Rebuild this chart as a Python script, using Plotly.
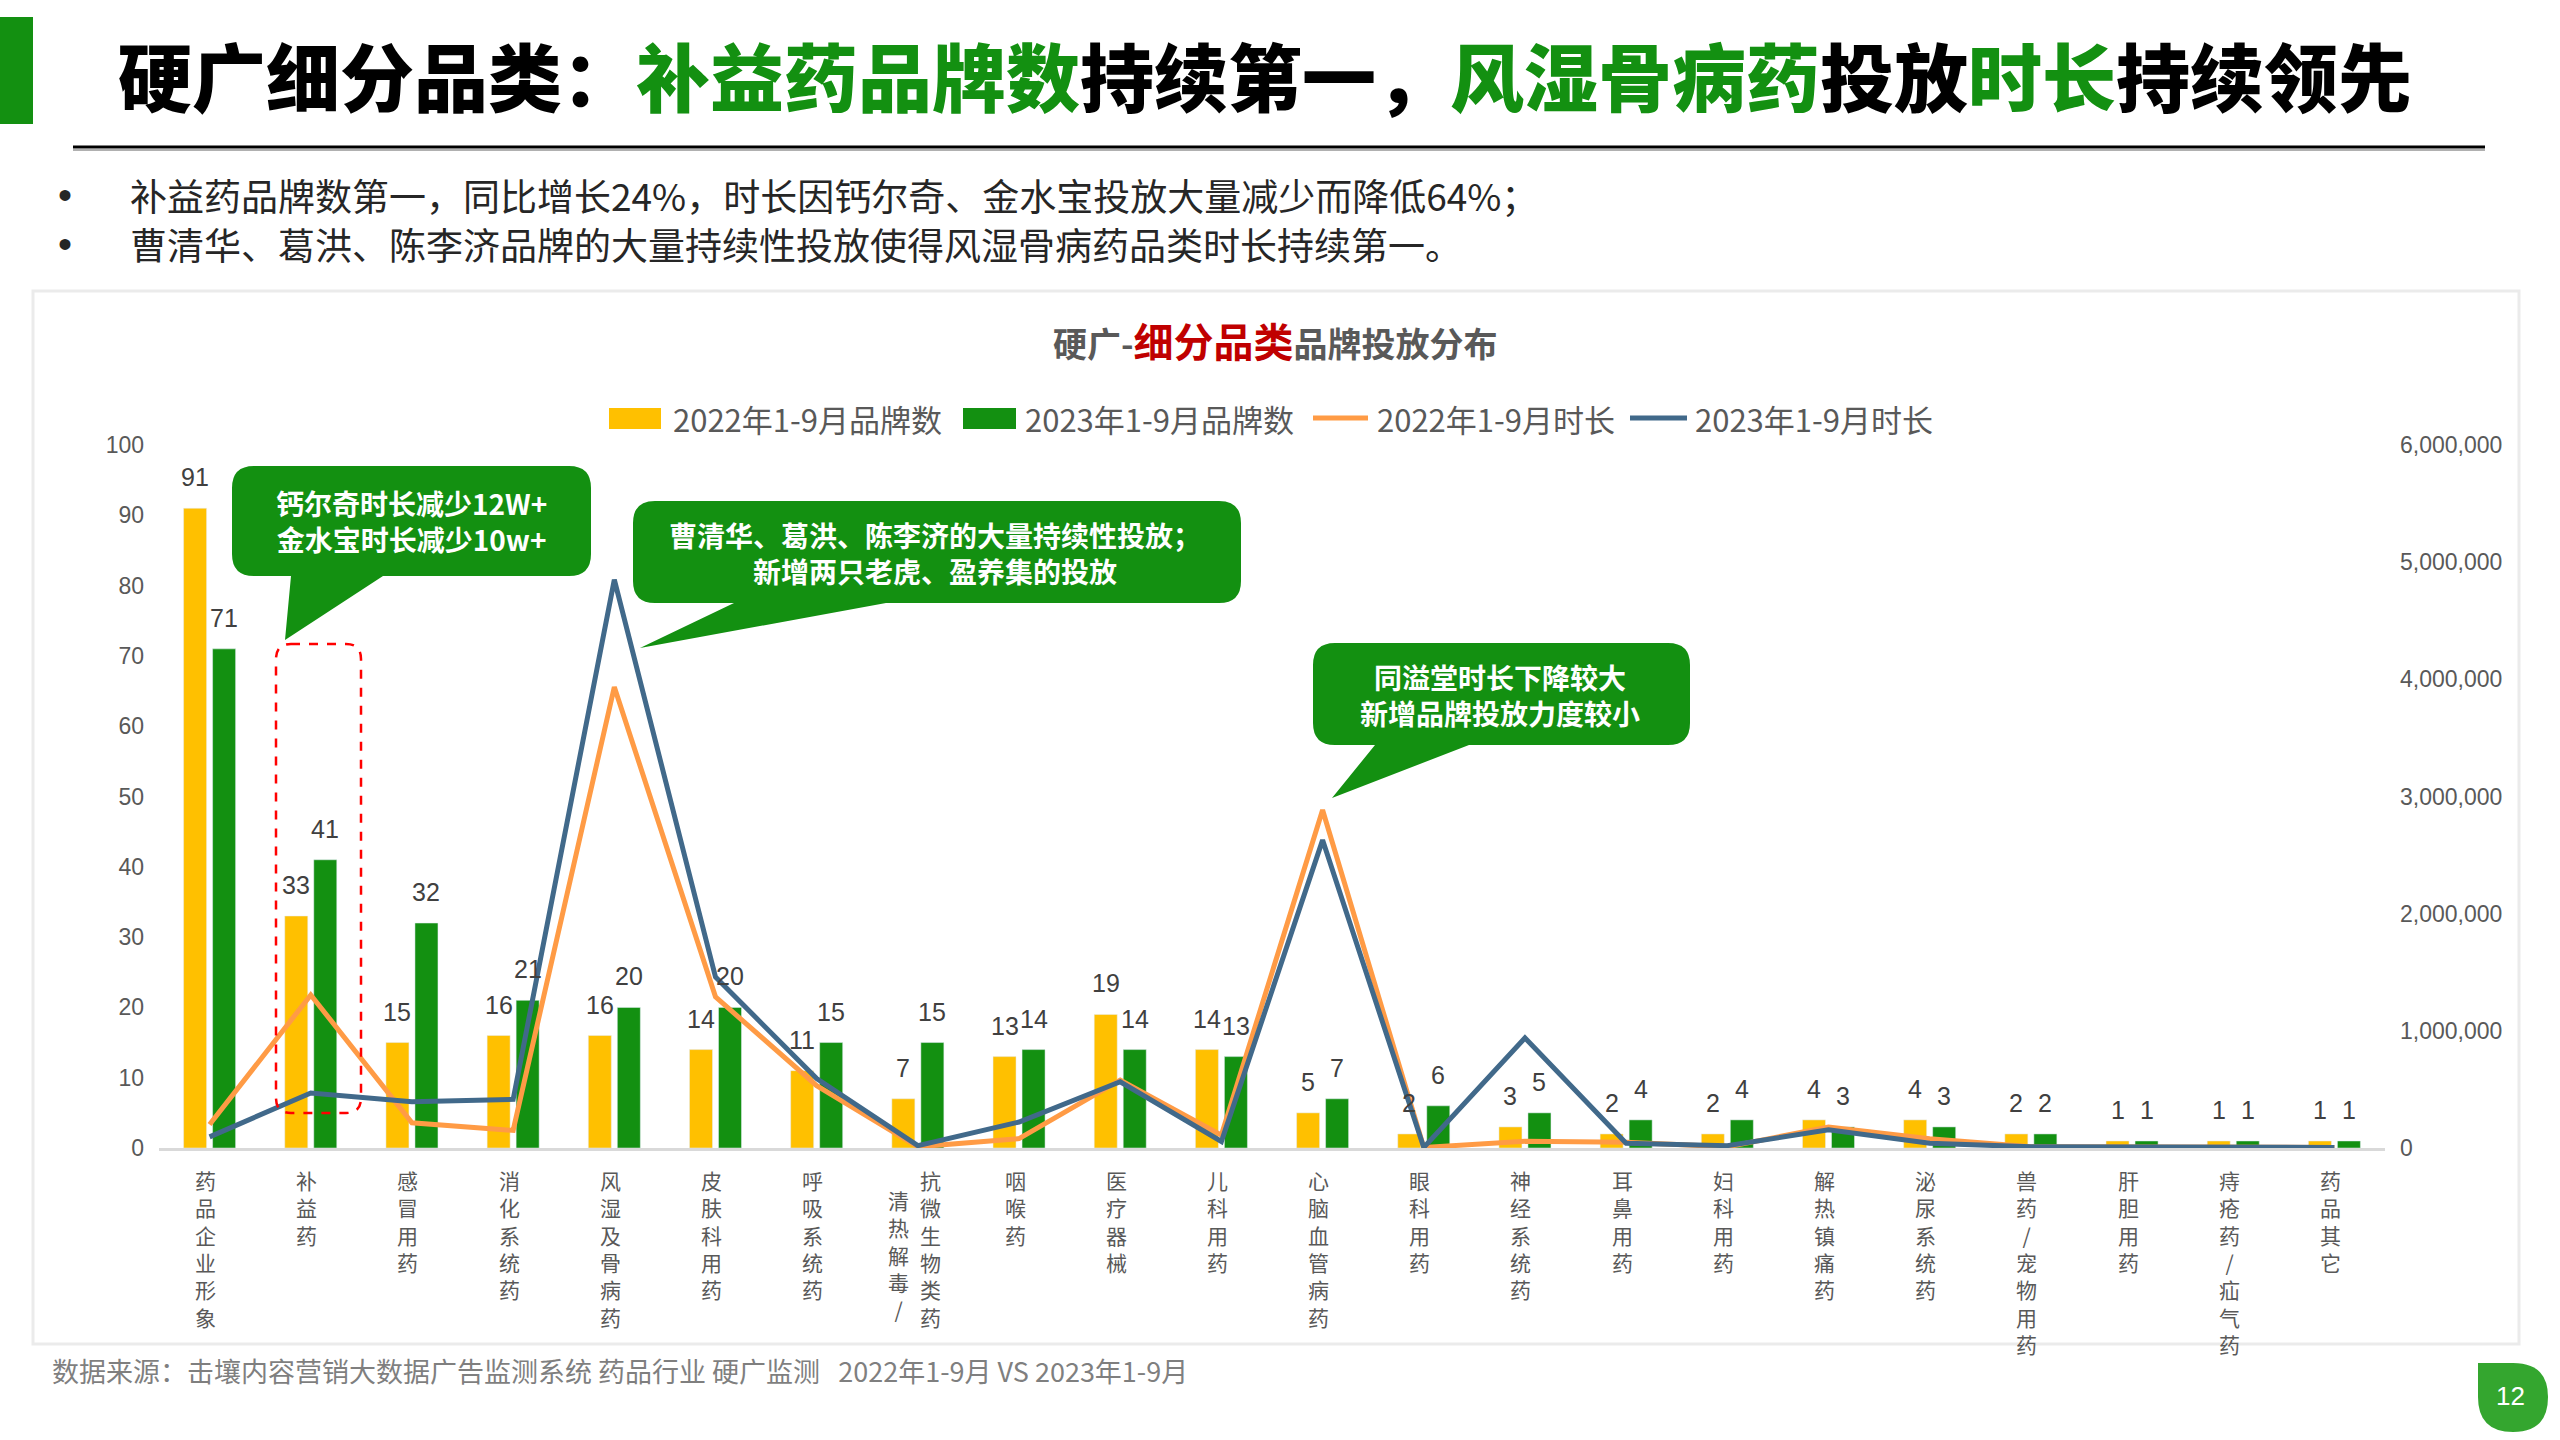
import plotly.graph_objects as go

# ---- data ----
categories = ["药品企业形象", "补益药", "感冒用药", "消化系统药", "风湿及骨病药", "皮肤科用药", "呼吸系统药",
              "清热解毒/抗微生物类药", "咽喉药", "医疗器械", "儿科用药", "心脑血管病药", "眼科用药", "神经系统药",
              "耳鼻用药", "妇科用药", "解热镇痛药", "泌尿系统药", "兽药/宠物用药", "肝胆用药", "痔疮药/疝气药", "药品其它"]
brands_2022 = [91, 33, 15, 16, 16, 14, 11, 7, 13, 19, 14, 5, 2, 3, 2, 2, 4, 4, 2, 1, 1, 1]
brands_2023 = [71, 41, 32, 21, 20, 20, 15, 15, 14, 14, 13, 7, 6, 5, 4, 4, 3, 3, 2, 1, 1, 1]
duration_2022 = [200000, 1306000, 215000, 150000, 3935000, 1290000, 532000, 10000, 80000, 580000, 110000,
                 2885000, 5000, 57000, 50000, 10000, 180000, 80000, 10000, 5000, 5000, 5000]
duration_2023 = [95000, 470000, 395000, 415000, 4850000, 1459000, 593000, 20000, 222000, 565000, 56000,
                 2628000, 5000, 940000, 40000, 20000, 155000, 40000, 10000, 5000, 5000, 5000]
series_names = ["2022年1-9月品牌数", "2023年1-9月品牌数", "2022年1-9月时长", "2023年1-9月时长"]
# labels that wrap into two vertical columns
label_columns = {"清热解毒/抗微生物类药": ["清热解毒/", "抗微生物类药"]}

YELLOW = "#FFC000"
GREEN = "#139011"
ORANGE = "#FF9B45"
BLUE = "#41698A"
CJK = "Noto Sans CJK SC"
ARIAL = "Liberation Sans"

# plot area in pixels
L, T, W, H = 159, 445, 2226, 703


def px(x):
    return (x - L) / W


def py(y):
    return (T + H - y) / H


def rounded_path(x0, y0, x1, y1, r, tail=None):
    # tail = (base_left, base_right, tip_x, tip_y) on the bottom edge
    pts = [f"M{px(x0 + r)},{py(y0)}", f"L{px(x1 - r)},{py(y0)}",
           f"Q{px(x1)},{py(y0)} {px(x1)},{py(y0 + r)}", f"L{px(x1)},{py(y1 - r)}",
           f"Q{px(x1)},{py(y1)} {px(x1 - r)},{py(y1)}"]
    if tail:
        bl, br, tx, ty = tail
        pts += [f"L{px(br)},{py(y1)}", f"L{px(tx)},{py(ty)}", f"L{px(bl)},{py(y1)}"]
    pts += [f"L{px(x0 + r)},{py(y1)}", f"Q{px(x0)},{py(y1)} {px(x0)},{py(y1 - r)}",
            f"L{px(x0)},{py(y0 + r)}", f"Q{px(x0)},{py(y0)} {px(x0 + r)},{py(y0)}", "Z"]
    return " ".join(pts)


def note(x, y, text, font, xanchor="center"):
    return dict(xref="paper", yref="paper", x=px(x), y=py(y), text=text, showarrow=False,
                xanchor=xanchor, yanchor="middle", font=font)


fig = go.Figure()
fig.add_trace(go.Bar(x=categories, y=brands_2022, name=series_names[0], marker_color=YELLOW))
fig.add_trace(go.Bar(x=categories, y=brands_2023, name=series_names[1], marker_color=GREEN))
fig.add_trace(go.Scatter(x=categories, y=duration_2022, name=series_names[2], yaxis="y2", mode="lines",
                         line=dict(color=ORANGE, width=5)))
fig.add_trace(go.Scatter(x=categories, y=duration_2023, name=series_names[3], yaxis="y2", mode="lines",
                         line=dict(color=BLUE, width=5)))

ann = []
shapes = []

# data labels above bars
for c, a, b in zip(categories, brands_2022, brands_2023):
    for v, sh in ((a, -14.5), (b, 14.5)):
        ann.append(dict(x=c, y=v, xref="x", yref="y", text=str(v), showarrow=False, xshift=sh, yshift=31,
                        xanchor="center", yanchor="middle",
                        font=dict(family=ARIAL, size=25, color="#404040")))

# vertical category labels (stacked characters)
for c in categories:
    cols = label_columns.get(c, [c])
    if len(cols) == 1:
        offsets = [(-4, 0)]
    else:
        offsets = [(-19, 20), (13, 0)]
    for col, (xs, ys) in zip(cols, offsets):
        ann.append(dict(x=c, y=0, xref="x", yref="y", text="<br>".join(col), showarrow=False, xshift=xs,
                        yshift=-(15 + ys), xanchor="center", yanchor="top",
                        font=dict(family=CJK, size=21, color="#595959")))

# slide header
shapes.append(dict(type="rect", xref="paper", yref="paper", x0=px(0), x1=px(33), y0=py(17), y1=py(124),
                   fillcolor=GREEN, line_width=0))
shapes.append(dict(type="line", xref="paper", yref="paper", x0=px(73), x1=px(2485), y0=py(150), y1=py(150),
                   line=dict(color="#B0B0B0", width=2)))
shapes.append(dict(type="line", xref="paper", yref="paper", x0=px(73), x1=px(2485), y0=py(147), y1=py(147),
                   line=dict(color="#000000", width=3)))
g = f"<span style='color:{GREEN}'>"
ann.append(note(116, 73, f"硬广细分品类：{g}补益药品牌数</span>持续第一，{g}风湿骨病药</span>投放{g}时长</span>持续领先",
                dict(family=CJK, size=74, color="#000000", weight=900), "left"))

bullets = ["补益药品牌数第一，同比增长24%，时长因钙尔奇、金水宝投放大量减少而降低64%；",
           "曹清华、葛洪、陈李济品牌的大量持续性投放使得风湿骨病药品类时长持续第一。"]
for text, yy in zip(bullets, (195, 244)):
    ann.append(note(65, yy, "•", dict(family=ARIAL, size=40, color="#262626")))
    ann.append(note(128, yy, text, dict(family=CJK, size=37, color="#262626"), "left"))

# chart container
shapes.append(dict(type="rect", xref="paper", yref="paper", x0=px(33), x1=px(2519), y0=py(291), y1=py(1344),
                   fillcolor="white", line=dict(color="#EBEBEB", width=3), layer="below"))

# chart title
ann.append(note(1275, 340, "<b>硬广-<span style='color:#C00000;font-size:40px'>细分品类</span>品牌投放分布</b>",
                dict(family=CJK, size=34, color="#595959")))

# custom legend
leg_y = 418
shapes.append(dict(type="rect", xref="paper", yref="paper", x0=px(609), x1=px(661), y0=py(408), y1=py(429),
                   fillcolor=YELLOW, line_width=0))
shapes.append(dict(type="rect", xref="paper", yref="paper", x0=px(963), x1=px(1016), y0=py(408), y1=py(429),
                   fillcolor=GREEN, line_width=0))
shapes.append(dict(type="line", xref="paper", yref="paper", x0=px(1313), x1=px(1368), y0=py(leg_y), y1=py(leg_y),
                   line=dict(color=ORANGE, width=5)))
shapes.append(dict(type="line", xref="paper", yref="paper", x0=px(1630), x1=px(1687), y0=py(leg_y), y1=py(leg_y),
                   line=dict(color=BLUE, width=5)))
for name, xx in zip(series_names, (671, 1023, 1375, 1693)):
    ann.append(note(xx, leg_y, name, dict(family=CJK, size=31, color="#595959"), "left"))

# callout bubbles
bubbles = [
    ((232, 466, 591, 576, 22, (291, 383, 285, 640)), (411, 521), "钙尔奇时长减少12W+<br>金水宝时长减少10w+"),
    ((633, 501, 1241, 603, 22, (734, 886, 640, 648)), (935, 553),
     "曹清华、葛洪、陈李济的大量持续性投放；<br>新增两只老虎、盈养集的投放"),
    ((1313, 643, 1690, 745, 22, (1375, 1469, 1332, 798)), (1500, 695), "同溢堂时长下降较大<br>新增品牌投放力度较小"),
]
for (x0, y0, x1, y1, r, tail), (tx, ty), text in bubbles:
    shapes.append(dict(type="path", xref="paper", yref="paper", path=rounded_path(x0, y0, x1, y1, r, tail),
                       fillcolor=GREEN, line_width=0, layer="above"))
    ann.append(note(tx, ty, f"<b>{text}</b>", dict(family=CJK, size=28, color="white")))

# dashed highlight around 补益药
shapes.append(dict(type="path", xref="paper", yref="paper", path=rounded_path(276, 644, 361, 1113, 15),
                   line=dict(color="#FF0000", width=2.5, dash="dash"), fillcolor="rgba(0,0,0,0)"))

# source + page number
ann.append(note(50, 1370, "数据来源：击壤内容营销大数据广告监测系统 药品行业 硬广监测   2022年1-9月 VS 2023年1-9月",
                dict(family=CJK, size=27, color="#7F7F7F"), "left"))
badge = (f"M{px(2478)},{py(1363)} L{px(2513)},{py(1363)} Q{px(2548)},{py(1363)} {px(2548)},{py(1397)} "
         f"Q{px(2548)},{py(1432)} {px(2513)},{py(1432)} Q{px(2478)},{py(1432)} {px(2478)},{py(1397)} Z")
shapes.append(dict(type="path", xref="paper", yref="paper", path=badge, fillcolor="#34A62F", line_width=0))
ann.append(note(2510, 1396, "12", dict(family=ARIAL, size=26, color="white")))

fig.update_layout(
    width=2560, height=1440,
    margin=dict(l=L, r=2560 - L - W, t=T, b=1440 - T - H),
    barmode="group", bargap=0.4265, bargroupgap=0.207,
    showlegend=False,
    paper_bgcolor="white", plot_bgcolor="rgba(0,0,0,0)",
    annotations=ann, shapes=shapes,
    xaxis=dict(type="category", showticklabels=False, showline=True, linecolor="#D9D9D9", linewidth=3,
               showgrid=False, zeroline=False, range=[-0.5, 21.5]),
    yaxis=dict(range=[0, 100], dtick=10, showgrid=False, zeroline=False, ticklabelstandoff=14,
               tickfont=dict(family=ARIAL, size=23, color="#595959")),
    yaxis2=dict(range=[0, 6000000], dtick=1000000, tickformat=",", overlaying="y", side="right",
                showgrid=False, zeroline=False, ticklabelstandoff=14,
                tickfont=dict(family=ARIAL, size=23, color="#595959")),
)

fig.write_html("out.html", config={"displayModeBar": False},
               post_script="document.body.style.margin='0';")
